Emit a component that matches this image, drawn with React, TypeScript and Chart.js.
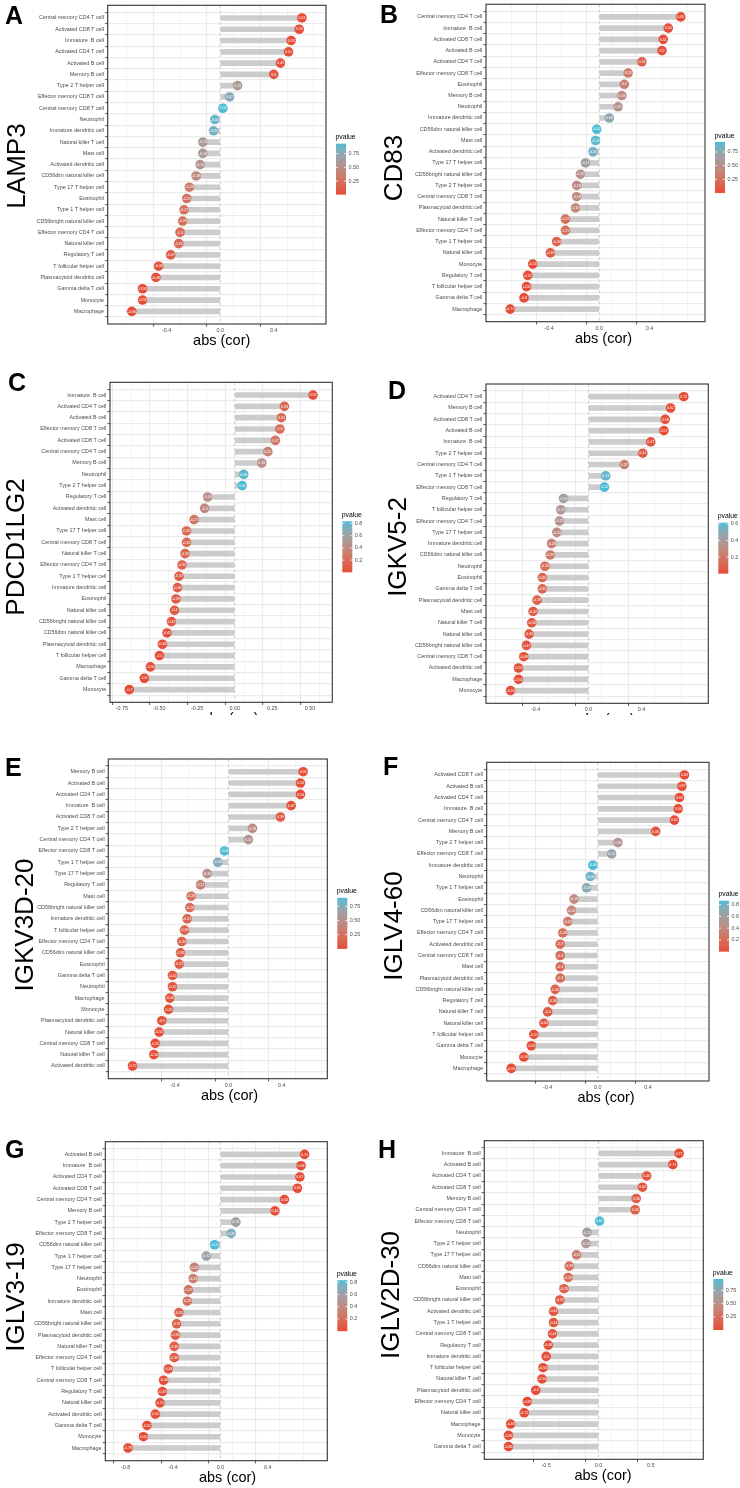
import React, { useEffect, useRef } from 'react';
import { Chart, registerables } from 'chart.js';
Chart.register(...registerables);

// ---------------- DATA ----------------
const catsA = ['Central memory CD4 T cell','Activated CD8 T cell','Immature  B cell','Activated CD4 T cell','Activated B cell','Memory B cell','Type 2 T helper cell','Effector memory CD8 T cell','Central memory CD8 T cell','Neutrophil','Immature dendritic cell','Natural killer T cell','Mast cell','Activated dendritic cell','CD56dim natural killer cell','Type 17 T helper cell','Eosinophil','Type 1 T helper cell','CD56bright natural killer cell','Effector memory CD4 T cell','Natural killer cell','Regulatory T cell','T follicular helper cell','Plasmacytoid dendritic cell','Gamma delta T cell','Monocyte','Macrophage'];
const corA = [0.61, 0.59, 0.53, 0.51, 0.45, 0.4, 0.13, 0.07, 0.02, -0.04, -0.05, -0.13, -0.13, -0.15, -0.18, -0.23, -0.25, -0.27, -0.28, -0.3, -0.31, -0.37, -0.46, -0.48, -0.58, -0.58, -0.66];
const pA = [0.004, 0.006, 0.016, 0.022, 0.047, 0.08, 0.585, 0.769, 0.933, 0.867, 0.834, 0.585, 0.585, 0.528, 0.448, 0.329, 0.288, 0.249, 0.231, 0.199, 0.183, 0.107, 0.042, 0.032, 0.007, 0.007, 0.0015];
const breaksA = [0.25, 0.5, 0.75];

const catsB = ['Central memory CD4 T cell','Immature  B cell','Activated CD8 T cell','Activated B cell','Activated CD4 T cell','Effector memory CD8 T cell','Eosinophil','Memory B cell','Neutrophil','Immature dendritic cell','CD56dim natural killer cell','Mast cell','Activated dendritic cell','Type 17 T helper cell','CD56bright natural killer cell','Type 2 T helper cell','Central memory CD8 T cell','Plasmacytoid dendritic cell','Natural killer T cell','Effector memory CD4 T cell','Type 1 T helper cell','Natural killer cell','Monocyte','Regulatory T cell','T follicular helper cell','Gamma delta T cell','Macrophage'];
const corB = [0.65, 0.55, 0.51, 0.5, 0.34, 0.23, 0.2, 0.18, 0.15, 0.08, -0.02, -0.03, -0.05, -0.11, -0.15, -0.18, -0.18, -0.19, -0.27, -0.27, -0.34, -0.39, -0.53, -0.57, -0.58, -0.6, -0.71];
const pB = [0.002, 0.012, 0.022, 0.025, 0.142, 0.329, 0.398, 0.448, 0.528, 0.737, 0.933, 0.9, 0.834, 0.644, 0.528, 0.448, 0.448, 0.422, 0.249, 0.249, 0.142, 0.088, 0.016, 0.008, 0.007, 0.005, 0.0005];
const breaksB = [0.25, 0.5, 0.75];

const catsC = ['Immature  B cell','Activated CD4 T cell','Activated B cell','Effector memory CD8 T cell','Activated CD8 T cell','Central memory CD4 T cell','Memory B cell','Neutrophil','Type 2 T helper cell','Regulatory T cell','Activated dendritic cell','Mast cell','Type 17 T helper cell','Central memory CD8 T cell','Natural killer T cell','Effector memory CD4 T cell','Type 1 T helper cell','Immature dendritic cell','Eosinophil','Natural killer cell','CD56bright natural killer cell','CD56dim natural killer cell','Plasmacytoid dendritic cell','T follicular helper cell','Macrophage','Gamma delta T cell','Monocyte'];
const corC = [0.52, 0.33, 0.31, 0.3, 0.27, 0.22, 0.18, 0.06, 0.05, -0.18, -0.2, -0.27, -0.32, -0.32, -0.33, -0.35, -0.37, -0.38, -0.39, -0.4, -0.42, -0.45, -0.48, -0.5, -0.56, -0.6, -0.7];
const pC = [0.019, 0.155, 0.183, 0.199, 0.249, 0.351, 0.448, 0.801, 0.834, 0.448, 0.398, 0.249, 0.169, 0.169, 0.155, 0.129, 0.107, 0.097, 0.088, 0.08, 0.065, 0.047, 0.032, 0.025, 0.01, 0.005, 0.0006];
const breaksC = [0.2, 0.4, 0.6, 0.8];

const catsD = ['Activated CD4 T cell','Memory B cell','Activated CD8 T cell','Activated B cell','Immature  B cell','Type 2 T helper cell','Central memory CD4 T cell','Type 1 T helper cell','Effector memory CD8 T cell','Regulatory T cell','T follicular helper cell','Effector memory CD4 T cell','Type 17 T helper cell','Immature dendritic cell','CD56dim natural killer cell','Neutrophil','Eosinophil','Gamma delta T cell','Plasmacytoid dendritic cell','Mast cell','Natural killer T cell','Natural killer cell','CD56bright natural killer cell','Central memory CD8 T cell','Activated dendritic cell','Macrophage','Monocyte'];
const corD = [0.72, 0.62, 0.58, 0.57, 0.47, 0.41, 0.27, 0.13, 0.12, -0.19, -0.21, -0.22, -0.24, -0.28, -0.29, -0.33, -0.35, -0.35, -0.39, -0.42, -0.43, -0.45, -0.47, -0.49, -0.53, -0.53, -0.59];
const pD = [0.0003, 0.004, 0.007, 0.008, 0.037, 0.072, 0.249, 0.585, 0.614, 0.422, 0.374, 0.351, 0.308, 0.231, 0.214, 0.155, 0.129, 0.129, 0.088, 0.065, 0.058, 0.047, 0.037, 0.028, 0.016, 0.016, 0.006];
const breaksD = [0.2, 0.4, 0.6];

const catsE = ['Memory B cell','Activated B cell','Activated CD4 T cell','Immature  B cell','Activated CD8 T cell','Type 2 T helper cell','Central memory CD4 T cell','Effector memory CD8 T cell','Type 1 T helper cell','Type 17 T helper cell','Regulatory T cell','Mast cell','CD56bright natural killer cell','Immature dendritic cell','T follicular helper cell','Effector memory CD4 T cell','CD56dim natural killer cell','Eosinophil','Gamma delta T cell','Neutrophil','Macrophage','Monocyte','Plasmacytoid dendritic cell','Natural killer cell','Central memory CD8 T cell','Natural killer T cell','Activated dendritic cell'];
const corE = [0.56, 0.54, 0.54, 0.47, 0.39, 0.18, 0.15, -0.03, -0.08, -0.16, -0.21, -0.28, -0.29, -0.31, -0.33, -0.35, -0.36, -0.37, -0.42, -0.42, -0.44, -0.45, -0.5, -0.52, -0.55, -0.56, -0.72];
const pE = [0.01, 0.014, 0.014, 0.037, 0.088, 0.448, 0.528, 0.9, 0.737, 0.5, 0.374, 0.231, 0.214, 0.183, 0.155, 0.129, 0.118, 0.107, 0.065, 0.065, 0.052, 0.047, 0.025, 0.019, 0.012, 0.01, 0.0003];
const breaksE = [0.25, 0.5, 0.75];

const catsF = ['Activated CD8 T cell','Activated B cell','Activated CD4 T cell','Immature  B cell','Central memory CD4 T cell','Memory B cell','Type 2 T helper cell','Effector memory CD8 T cell','Immature dendritic cell','Neutrophil','Type 1 T helper cell','Eosinophil','CD56dim natural killer cell','Type 17 T helper cell','Effector memory CD4 T cell','Activated dendritic cell','Central memory CD8 T cell','Mast cell','Plasmacytoid dendritic cell','CD56bright natural killer cell','Regulatory T cell','Natural killer T cell','Natural killer cell','T follicular helper cell','Gamma delta T cell','Monocyte','Macrophage'];
const corF = [0.69, 0.67, 0.65, 0.64, 0.61, 0.46, 0.16, 0.11, -0.04, -0.06, -0.09, -0.19, -0.21, -0.24, -0.28, -0.3, -0.3, -0.3, -0.3, -0.34, -0.36, -0.4, -0.43, -0.51, -0.53, -0.59, -0.69];
const pF = [0.0008, 0.0012, 0.002, 0.0024, 0.004, 0.042, 0.5, 0.644, 0.867, 0.801, 0.706, 0.422, 0.374, 0.308, 0.231, 0.199, 0.199, 0.199, 0.199, 0.142, 0.118, 0.08, 0.058, 0.022, 0.016, 0.006, 0.0008];
const breaksF = [0.2, 0.4, 0.6, 0.8];

const catsG = ['Activated B cell','Immature  B cell','Activated CD4 T cell','Activated CD8 T cell','Central memory CD4 T cell','Memory B cell','Type 2 T helper cell','Effector memory CD8 T cell','CD56dim natural killer cell','Type 1 T helper cell','Type 17 T helper cell','Neutrophil','Eosinophil','Immature dendritic cell','Mast cell','CD56bright natural killer cell','Plasmacytoid dendritic cell','Natural killer T cell','Effector memory CD4 T cell','T follicular helper cell','Central memory CD8 T cell','Regulatory T cell','Natural killer cell','Activated dendritic cell','Gamma delta T cell','Monocyte','Macrophage'];
const corG = [0.71, 0.68, 0.67, 0.65, 0.54, 0.46, 0.13, 0.09, -0.05, -0.12, -0.22, -0.23, -0.27, -0.28, -0.35, -0.37, -0.38, -0.39, -0.39, -0.44, -0.48, -0.49, -0.51, -0.55, -0.62, -0.65, -0.78];
const pG = [0.0005, 0.001, 0.0012, 0.002, 0.014, 0.042, 0.585, 0.706, 0.834, 0.614, 0.351, 0.329, 0.249, 0.231, 0.129, 0.107, 0.097, 0.088, 0.088, 0.052, 0.032, 0.028, 0.022, 0.012, 0.004, 0.002, 0.0001];
const breaksG = [0.2, 0.4, 0.6, 0.8];

const catsH = ['Immature  B cell','Activated B cell','Activated CD4 T cell','Activated CD8 T cell','Memory B cell','Central memory CD4 T cell','Effector memory CD8 T cell','Neutrophil','Type 2 T helper cell','Type 17 T helper cell','CD56dim natural killer cell','Mast cell','Eosinophil','CD56bright natural killer cell','Activated dendritic cell','Type 1 T helper cell','Central memory CD8 T cell','Regulatory T cell','Immature dendritic cell','T follicular helper cell','Natural killer T cell','Plasmacytoid dendritic cell','Effector memory CD4 T cell','Natural killer cell','Macrophage','Monocyte','Gamma delta T cell'];
const corH = [0.77, 0.71, 0.46, 0.42, 0.36, 0.35, 0.01, -0.11, -0.12, -0.21, -0.28, -0.29, -0.33, -0.37, -0.43, -0.43, -0.44, -0.48, -0.5, -0.53, -0.54, -0.6, -0.68, -0.71, -0.84, -0.86, -0.86];
const pH = [0.0001, 0.0005, 0.042, 0.065, 0.118, 0.129, 0.967, 0.644, 0.614, 0.374, 0.231, 0.214, 0.155, 0.107, 0.058, 0.058, 0.052, 0.032, 0.025, 0.016, 0.014, 0.005, 0.001, 0.0005, 0.0001, 0.0001, 0.0001];
const breaksH = [0.25, 0.5, 0.75];

// ---------------- STYLE / LAYOUT ----------------
const FAMILY = "'Liberation Sans', Arial, Helvetica, sans-serif";
const LOW = [230, 75, 53];
const HIGH = [77, 187, 213];

function toLin(c: number) { c /= 255; return c <= 0.04045 ? c / 12.92 : Math.pow((c + 0.055) / 1.055, 2.4); }
function toSrgb(c: number) { const v = c <= 0.0031308 ? 12.92 * c : 1.055 * Math.pow(c, 1 / 2.4) - 0.055; return Math.round(Math.max(0, Math.min(1, v)) * 255); }
function rgb2lab(rgb: number[]) {
  const [r, g, b] = rgb.map(toLin);
  const X = (0.4124 * r + 0.3576 * g + 0.1805 * b) / 0.95047;
  const Y = 0.2126 * r + 0.7152 * g + 0.0722 * b;
  const Z = (0.0193 * r + 0.1192 * g + 0.9505 * b) / 1.08883;
  const f = (t: number) => (t > 0.008856 ? Math.cbrt(t) : 7.787 * t + 16 / 116);
  const fx = f(X), fy = f(Y), fz = f(Z);
  return [116 * fy - 16, 500 * (fx - fy), 200 * (fy - fz)];
}
function lab2rgb(lab: number[]) {
  const [L, a, b] = lab;
  const fy = (L + 16) / 116, fx = a / 500 + fy, fz = fy - b / 200;
  const fi = (t: number) => (t * t * t > 0.008856 ? t * t * t : (t - 16 / 116) / 7.787);
  const X = fi(fx) * 0.95047, Y = fi(fy), Z = fi(fz) * 1.08883;
  const r = 3.2406 * X - 1.5372 * Y - 0.4986 * Z;
  const g = -0.9689 * X + 1.8758 * Y + 0.0415 * Z;
  const bb = 0.0557 * X - 0.204 * Y + 1.057 * Z;
  return `rgb(${toSrgb(r)},${toSrgb(g)},${toSrgb(bb)})`;
}
const LAB_LOW = rgb2lab(LOW), LAB_HIGH = rgb2lab(HIGH);
function gradColor(t: number) {
  const u = Math.max(0, Math.min(1, t));
  return lab2rgb(LAB_LOW.map((v, i) => v + (LAB_HIGH[i] - v) * u));
}

type Spec = {
  letter: string; gene: string; cats: string[]; cor: number[]; p: number[]; breaks: number[];
  cell: { x: number; y: number; w: number; h: number };
  box: { l: number; r: number; t: number; b: number };
  step: number; major: number; xDigits: number; titleX: number; titleClipY: number;
  geneX: number; geneY: number; letterX: number; letterY: number;
};

const PANELS: Spec[] = [
  { letter: 'A', gene: 'LAMP3', cats: catsA, cor: corA, p: pA, breaks: breaksA,
    cell: { x: 0, y: 0, w: 370, h: 360 }, box: { l: 107.7, r: 326, t: 5.3, b: 324 },
    step: 0.2, major: 0.4, xDigits: 1, titleX: 221.7, titleClipY: 9999, geneX: 16, geneY: 166, letterX: 5, letterY: 24 },
  { letter: 'B', gene: 'CD83', cats: catsB, cor: corB, p: pB, breaks: breaksB,
    cell: { x: 370, y: 0, w: 370, h: 360 }, box: { l: 486, r: 705, t: 3.3, b: 321.7 },
    step: 0.2, major: 0.4, xDigits: 1, titleX: 603.5, titleClipY: 9999, geneX: 392.5, geneY: 168, letterX: 380, letterY: 23 },
  { letter: 'C', gene: 'PDCD1LG2', cats: catsC, cor: corC, p: pC, breaks: breaksC,
    cell: { x: 0, y: 360, w: 370, h: 370 }, box: { l: 110, r: 332.3, t: 382.3, b: 702.3 },
    step: 0.125, major: 0.25, xDigits: 2, titleX: 230, titleClipY: 715, geneX: 15, geneY: 547, letterX: 8, letterY: 391 },
  { letter: 'D', gene: 'IGKV5-2', cats: catsD, cor: corD, p: pD, breaks: breaksD,
    cell: { x: 370, y: 360, w: 370, h: 370 }, box: { l: 486, r: 708.3, t: 384, b: 703.3 },
    step: 0.2, major: 0.4, xDigits: 1, titleX: 606, titleClipY: 715, geneX: 396.7, geneY: 547, letterX: 388, letterY: 399 },
  { letter: 'E', gene: 'IGKV3D-20', cats: catsE, cor: corE, p: pE, breaks: breaksE,
    cell: { x: 0, y: 730, w: 370, h: 390 }, box: { l: 108.3, r: 327.3, t: 759, b: 1078.7 },
    step: 0.2, major: 0.4, xDigits: 1, titleX: 229.6, titleClipY: 9999, geneX: 24, geneY: 925, letterX: 5, letterY: 776 },
  { letter: 'F', gene: 'IGLV4-60', cats: catsF, cor: corF, p: pF, breaks: breaksF,
    cell: { x: 370, y: 730, w: 370, h: 390 }, box: { l: 486.7, r: 709, t: 762.3, b: 1081 },
    step: 0.2, major: 0.4, xDigits: 1, titleX: 606, titleClipY: 9999, geneX: 392.5, geneY: 926, letterX: 383, letterY: 775 },
  { letter: 'G', gene: 'IGLV3-19', cats: catsG, cor: corG, p: pG, breaks: breaksG,
    cell: { x: 0, y: 1110, w: 370, h: 378 }, box: { l: 105.3, r: 327.3, t: 1141.7, b: 1460.7 },
    step: 0.2, major: 0.4, xDigits: 1, titleX: 227.6, titleClipY: 9999, geneX: 14.5, geneY: 1297, letterX: 5, letterY: 1158 },
  { letter: 'H', gene: 'IGLV2D-30', cats: catsH, cor: corH, p: pH, breaks: breaksH,
    cell: { x: 370, y: 1110, w: 370, h: 378 }, box: { l: 484.3, r: 703.3, t: 1140.7, b: 1459.3 },
    step: 0.25, major: 0.5, xDigits: 1, titleX: 603, titleClipY: 9999, geneX: 389.7, geneY: 1295, letterX: 378, letterY: 1158 },
];

const XAXIS_H = 12;

function Panel({ spec }: { spec: Spec }) {
  const ref = useRef<HTMLCanvasElement | null>(null);
  useEffect(() => {
    const { cell, box } = spec;
    const lo = Math.min(0, ...spec.cor), hi = Math.max(0, ...spec.cor);
    const pad = (hi - lo) * 0.05;
    const pmin = Math.min(...spec.p), pmax = Math.max(...spec.p);
    const colors = spec.p.map((v) => gradColor((v - pmin) / (pmax - pmin)));
    const n = spec.cats.length;
    const isMajor = (v: number) => Math.abs(v / spec.major - Math.round(v / spec.major)) < 1e-6;
    const ox = cell.x, oy = cell.y;

    const deco = {
      id: 'deco',
      beforeDatasetsDraw(chart: any) {
        const { ctx, chartArea: a, scales } = chart;
        const x0 = scales.x.getPixelForValue(0);
        ctx.save();
        ctx.strokeStyle = '#CFCFCF';
        ctx.lineWidth = 1.1;
        ctx.setLineDash([3, 2.5]);
        ctx.beginPath();
        ctx.moveTo(x0, a.top);
        ctx.lineTo(x0, a.bottom);
        ctx.stroke();
        ctx.restore();
      },
      afterDatasetsDraw(chart: any) {
        const { ctx, chartArea: a } = chart;
        const meta = chart.getDatasetMeta(1);
        ctx.save();
        ctx.fillStyle = '#FFFFFF';
        ctx.font = `3.6px ${FAMILY}`;
        ctx.textAlign = 'center';
        ctx.textBaseline = 'middle';
        meta.data.forEach((el: any, i: number) => {
          ctx.fillText(String(spec.cor[i]), el.x, el.y + 0.2);
        });
        ctx.strokeStyle = '#333333';
        ctx.lineWidth = 1.1;
        ctx.strokeRect(a.left, a.top, a.right - a.left, a.bottom - a.top);
        ctx.restore();
      },
      afterDraw(chart: any) {
        const { ctx, chartArea: a } = chart;
        ctx.save();
        // colour bar legend
        const bx = a.right + 10, bw = 10, bh = 51;
        const by = (a.top + a.bottom) / 2 - 21;
        const grad = ctx.createLinearGradient(0, by + bh, 0, by);
        for (let k = 0; k <= 24; k++) grad.addColorStop(k / 24, gradColor(k / 24));
        ctx.fillStyle = grad;
        ctx.fillRect(bx, by, bw, bh);
        ctx.fillStyle = '#000';
        ctx.font = `6.8px ${FAMILY}`;
        ctx.textAlign = 'left';
        ctx.textBaseline = 'middle';
        ctx.fillText('pvalue', bx - 0.5, by - 6.3);
        ctx.font = `5.4px ${FAMILY}`;
        ctx.fillStyle = '#4D4D4D';
        ctx.strokeStyle = '#FFFFFF';
        ctx.lineWidth = 0.8;
        const dig = spec.breaks.some((v) => Math.abs(v * 10 - Math.round(v * 10)) > 1e-6) ? 2 : 1;
        spec.breaks.forEach((b) => {
          if (b < pmin || b > pmax) return;
          const yy = by + bh - ((b - pmin) / (pmax - pmin)) * bh;
          ctx.beginPath();
          ctx.moveTo(bx, yy); ctx.lineTo(bx + 2, yy);
          ctx.moveTo(bx + bw - 2, yy); ctx.lineTo(bx + bw, yy);
          ctx.stroke();
          ctx.fillText(b.toFixed(dig), bx + bw + 2.5, yy);
        });
        // x title
        ctx.save();
        ctx.beginPath();
        ctx.rect(0, 0, cell.w, spec.titleClipY - oy);
        ctx.clip();
        ctx.fillStyle = '#000';
        ctx.font = `14.5px ${FAMILY}`;
        ctx.textAlign = 'center';
        ctx.textBaseline = 'middle';
        ctx.fillText('abs (cor)', spec.titleX - ox, a.bottom + 17);
        ctx.restore();
        // gene name (y title)
        ctx.save();
        ctx.font = `26px ${FAMILY}`;
        ctx.fillStyle = '#000';
        ctx.translate(spec.geneX - ox + 9.3, spec.geneY - oy);
        ctx.rotate(-Math.PI / 2);
        ctx.textAlign = 'center';
        ctx.textBaseline = 'alphabetic';
        ctx.fillText(spec.gene, 0, 0);
        ctx.restore();
        // panel letter
        ctx.font = `bold 25px ${FAMILY}`;
        ctx.fillStyle = '#000';
        ctx.textAlign = 'left';
        ctx.textBaseline = 'alphabetic';
        ctx.fillText(spec.letter, spec.letterX - ox, spec.letterY - oy);
        ctx.restore();
      },
    };

    const chart = new Chart(ref.current as HTMLCanvasElement, {
      type: 'bar',
      data: {
        datasets: [
          {
            type: 'bar',
            indexAxis: 'y',
            data: spec.cor.map((v, i) => ({ x: v, y: i })),
            backgroundColor: '#CCCCCC',
            borderWidth: 0,
            barThickness: 5,
            order: 2,
          } as any,
          {
            type: 'scatter',
            data: spec.cor.map((v, i) => ({ x: v, y: i })),
            pointRadius: 4.8,
            pointBackgroundColor: colors,
            pointBorderColor: colors,
            pointBorderWidth: 0,
            order: 1,
          } as any,
        ],
      },
      options: {
        responsive: false,
        animation: false,
        events: [],
        layout: {
          autoPadding: false,
          padding: {
            left: 0,
            top: box.t - cell.y,
            right: cell.x + cell.w - box.r,
            bottom: cell.y + cell.h - box.b - XAXIS_H,
          },
        },
        plugins: { legend: { display: false }, tooltip: { enabled: false }, title: { display: false } },
        scales: {
          x: {
            type: 'linear',
            position: 'bottom',
            min: lo - pad,
            max: hi + pad,
            afterFit: (s: any) => { s.height = XAXIS_H; },
            border: { display: false },
            ticks: {
              stepSize: spec.step,
              includeBounds: false,
              autoSkip: false,
              maxRotation: 0,
              padding: 0.5,
              color: '#4D4D4D',
              font: { family: FAMILY, size: 5.4 },
              callback: (v: any) => {
                const num = Number(v);
                if (!isMajor(num)) return '';
                return (Math.abs(num) < 1e-9 ? 0 : num).toFixed(spec.xDigits);
              },
            },
            grid: {
              color: '#EBEBEB',
              lineWidth: (c: any) => (c.tick && isMajor(c.tick.value) ? 1.1 : 0.6),
              tickColor: (c: any) => (c.tick && isMajor(c.tick.value) ? '#333333' : 'rgba(0,0,0,0)'),
              tickWidth: 0.8,
              tickLength: 2.7,
              drawTicks: true,
            },
          },
          y: {
            type: 'linear',
            position: 'left',
            reverse: true,
            min: -0.6,
            max: n - 1 + 0.6,
            afterFit: (s: any) => { s.width = box.l - cell.x; },
            border: { display: false },
            ticks: {
              stepSize: 1,
              includeBounds: false,
              autoSkip: false,
              padding: 1,
              color: '#4D4D4D',
              font: { family: FAMILY, size: 5.4 },
              callback: (v: any) => spec.cats[Math.round(Number(v))] ?? '',
            },
            grid: {
              color: '#EBEBEB',
              lineWidth: 1.2,
              tickColor: '#333333',
              tickWidth: 0.8,
              tickLength: 2.7,
              drawTicks: true,
            },
          },
        },
      } as any,
      plugins: [deco],
    });
    return () => chart.destroy();
  }, [spec]);
  return (
    <canvas
      ref={ref}
      width={spec.cell.w}
      height={spec.cell.h}
      style={{ position: 'absolute', left: spec.cell.x, top: spec.cell.y, width: spec.cell.w, height: spec.cell.h }}
    />
  );
}

export default function App() {
  return (
    <div style={{ position: 'absolute', left: 0, top: 0, width: 740, height: 1488, background: '#FFFFFF', overflow: 'hidden' }}>
      {PANELS.map((s) => (
        <Panel key={s.letter} spec={s} />
      ))}
    </div>
  );
}
